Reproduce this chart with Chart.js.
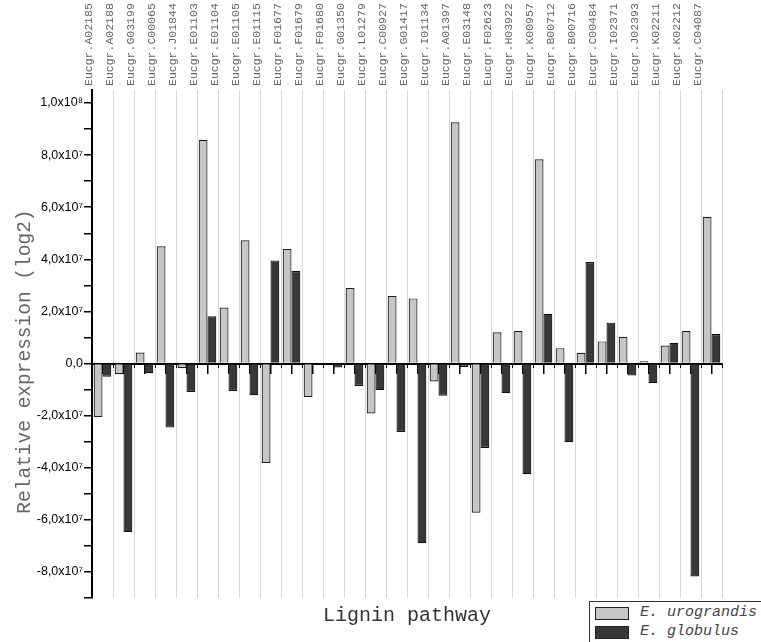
<!DOCTYPE html>
<html>
<head>
<meta charset="utf-8">
<script src="https://cdn.jsdelivr.net/npm/chart.js@4.4.1/dist/chart.umd.min.js"></script>
<style>
body { margin: 0; background: #fff; }
#wrap { position: relative; width: 761px; height: 642px; overflow: hidden; }
#legend { position: absolute; left: 589px; top: 601px; width: 200px; height: 50px; border: 1px solid #333; background: #fff; font: italic 15px "Liberation Mono", monospace; color: #444; }
.row { position: absolute; left: 5px; height: 13px; }
.sw { position: absolute; left: 0; top: 0; width: 32px; height: 11px; border: 1px solid #222; }
.lbl { position: absolute; left: 45px; top: -3px; white-space: nowrap; }
</style>
</head>
<body>
<div id="wrap">
  <canvas id="ligninChart" width="761" height="642"></canvas>
  <div id="legend">
    <div class="row" style="top:5px"><div class="sw" style="background:#c6c6c6"></div><span class="lbl">E. urograndis</span></div>
    <div class="row" style="top:24px"><div class="sw" style="background:#383838"></div><span class="lbl">E. globulus</span></div>
  </div>
</div>
<script>
const genes = ['Eucgr.A02185', 'Eucgr.A02188', 'Eucgr.G03199', 'Eucgr.C00065', 'Eucgr.J01844',
    'Eucgr.E01103', 'Eucgr.E01104', 'Eucgr.E01105', 'Eucgr.E01115', 'Eucgr.F01677',
    'Eucgr.F01679', 'Eucgr.F01680', 'Eucgr.G01350', 'Eucgr.L01279', 'Eucgr.C00927',
    'Eucgr.G01417', 'Eucgr.I01134', 'Eucgr.A01397', 'Eucgr.E03148', 'Eucgr.F02623',
    'Eucgr.H03922', 'Eucgr.K00957', 'Eucgr.B00712', 'Eucgr.B00716', 'Eucgr.C00484',
    'Eucgr.I02371', 'Eucgr.J02393', 'Eucgr.K02211', 'Eucgr.K02212', 'Eucgr.C04087'];

const urograndis = [-2.05e7, -0.41e7, 0.42e7, 4.5e7, -0.18e7, 8.59e7, 2.15e7, 4.73e7, -3.82e7, 4.4e7,
    -1.28e7, 0, 2.9e7, -1.92e7, 2.59e7, 2.5e7, -0.69e7, 9.26e7, -5.73e7, 1.2e7,
    1.25e7, 7.84e7, 0.59e7, 0.41e7, 0.85e7, 1.03e7, 0.09e7, 0.69e7, 1.25e7, 5.63e7];

const globulus = [-0.51e7, -6.47e7, -0.37e7, -2.46e7, -1.09e7, 1.82e7, -1.05e7, -1.22e7, 3.96e7, 3.55e7,
    0, -0.15e7, -0.86e7, -1.02e7, -2.63e7, -6.9e7, -1.24e7, -0.13e7, -3.24e7, -1.14e7,
    -4.25e7, 1.91e7, -3.02e7, 3.9e7, 1.57e7, -0.46e7, -0.75e7, 0.8e7, -8.17e7, 1.13e7];

// tick positions on the value axis (labels only on every second one)
const yTicks = [-9e7, -8e7, -7e7, -6e7, -5e7, -4e7, -3e7, -2e7, -1e7, 0,
    1e7, 2e7, 3e7, 4e7, 5e7, 6e7, 7e7, 8e7, 9e7, 1e8];
const yMin = -9e7;
const yMax = 1.05e8;

function yLabel(v) {
    const n = Math.round(v / 1e7);
    if (n % 2 !== 0) return '';
    if (n === 0) return '0,0';
    if (Math.abs(n) >= 10) return (n / 10).toFixed(1).replace('.', ',') + 'x10\u2078';
    return n.toFixed(1).replace('.', ',') + 'x10\u2077';
}

const ctx = document.getElementById('ligninChart').getContext('2d');
const ligninChart = new Chart(ctx, {
    type: 'bar',
    data: {
        labels: genes,
        datasets: [{
            label: 'E. urograndis',
            data: urograndis,
            backgroundColor: '#c6c6c6',
            borderColor: '#1e1e1e',
            borderWidth: 1.2
        }, {
            label: 'E. globulus',
            data: globulus,
            backgroundColor: '#383838',
            borderColor: '#111',
            borderWidth: 1.2
        }]
    },
    options: {
        responsive: false,
        animation: false,
        layout: { padding: { left: 0, right: 39, top: 0, bottom: 0 } },
        categoryPercentage: 0.84,
        barPercentage: 1.0,
        plugins: {
            legend: { display: false },
            tooltip: { enabled: false }
        },
        scales: {
            xTop: {
                type: 'category',
                position: 'top',
                offset: true,
                grid: { display: true, offset: true, drawTicks: false, color: '#d9d9d9', lineWidth: 1 },
                border: { display: false },
                ticks: {
                    autoSkip: false,
                    minRotation: 90,
                    maxRotation: 90,
                    padding: 4,
                    color: '#666',
                    font: { family: '"Liberation Mono", monospace', size: 11.5 }
                },
                afterFit: s => { s.height = 90; }
            },
            x: {
                type: 'category',
                position: { y: 0 },
                offset: true,
                z: 1,
                grid: { display: true, offset: false, drawOnChartArea: false, drawTicks: true, tickLength: 9, color: '#000', lineWidth: 1.5 },
                border: { display: true, color: '#000', width: 2 },
                ticks: { display: false, autoSkip: false }
            },
            xMinor: {
                type: 'category',
                position: { y: 0 },
                offset: true,
                z: 1,
                grid: { display: true, offset: true, drawOnChartArea: false, drawTicks: true, tickLength: 4, color: '#000', lineWidth: 1 },
                border: { display: false },
                ticks: { display: false, autoSkip: false }
            },
            xb: {
                type: 'category',
                position: 'bottom',
                offset: true,
                grid: { display: false },
                border: { display: false },
                ticks: { display: false },
                title: {
                    display: true,
                    text: 'Lignin pathway',
                    color: '#333',
                    font: { family: '"Liberation Mono", monospace', size: 20 },
                    padding: { top: 0, bottom: 14 }
                },
                afterFit: s => { s.height = 44; }
            },
            y: {
                min: yMin,
                max: yMax,
                afterBuildTicks: s => { s.ticks = yTicks.map(v => ({ value: v })); },
                border: { display: true, color: '#000', width: 2 },
                grid: {
                    drawOnChartArea: false,
                    drawTicks: true,
                    tickLength: 8,
                    lineWidth: 1.5,
                    color: '#000'
                },
                ticks: {
                    autoSkip: false,
                    padding: 1,
                    color: '#000',
                    font: { family: '"Liberation Sans", Arial, sans-serif', size: 12.5 },
                    callback: v => yLabel(v)
                },
                title: {
                    display: true,
                    // trailing spaces nudge the rotated title down to where the original sits
                    text: 'Relative expression (log2)   ',
                    color: '#666',
                    font: { family: '"Liberation Mono", monospace', size: 19.5 },
                    padding: { top: 13, bottom: 0 }
                },
                afterFit: s => { s.width = 92; }
            }
        }
    }
});
</script>
</body>
</html>
